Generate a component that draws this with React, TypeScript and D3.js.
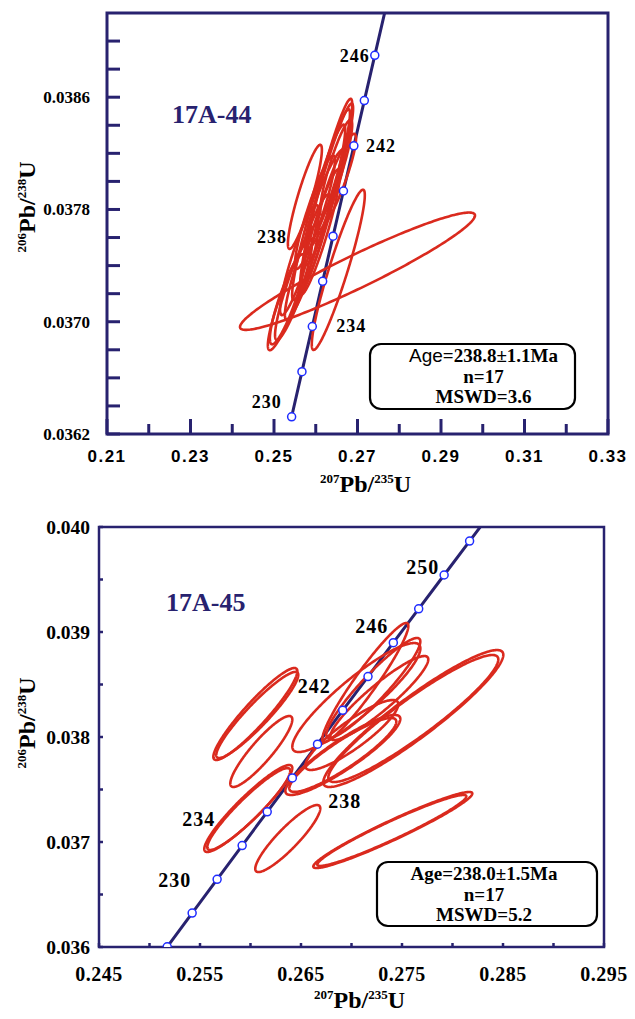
import * as d3 from "d3";

const NAVY = "#28226f";
const RED = "#da2a1e";
const MARK = "#1f2cff";
const SERIF = "'Liberation Serif', 'Times New Roman', serif";
const SANS = "'Liberation Sans', Arial, sans-serif";

// concordia reference points (Ma) with their ratios
const concAges = [228, 230, 232, 234, 236, 238, 240, 242, 244, 246, 248, 250, 252, 254];
const concX = [0.251754, 0.254222, 0.256695, 0.259173, 0.261655, 0.264143, 0.266635, 0.269132, 0.271634, 0.274141, 0.276653, 0.279171, 0.281693, 0.284221];
const concY = [0.0360013, 0.0363228, 0.0366444, 0.036966, 0.0372878, 0.0376097, 0.0379316, 0.0382537, 0.0385759, 0.0388981, 0.0392205, 0.039543, 0.0398655, 0.0401882];

// 17A-44 spots: 207Pb/235U, 206Pb/238U, half-widths, error correlation
const s44X = [0.2625, 0.2632, 0.2634, 0.2574, 0.2598, 0.2651, 0.2654, 0.2538, 0.2554, 0.258, 0.261, 0.2607, 0.2649, 0.256, 0.2622, 0.27, 0.2532];
const s44Xerr = [0.00623, 0.00575, 0.00479, 0.00407, 0.00479, 0.00455, 0.00635, 0.00527, 0.00515, 0.00539, 0.00479, 0.00635, 0.00383, 0.00455, 0.00479, 0.02814, 0.00419];
const s44Y = [0.03791, 0.03798, 0.03805, 0.03789, 0.03778, 0.038, 0.03737, 0.03719, 0.03728, 0.03746, 0.03764, 0.03778, 0.0381, 0.03744, 0.03787, 0.03736, 0.03716];
const s44Yerr = [0.000679, 0.000575, 0.000464, 0.000371, 0.000404, 0.000339, 0.000571, 0.000393, 0.000411, 0.000446, 0.000446, 0.000625, 0.000339, 0.000393, 0.000357, 0.000418, 0.000321];
const s44Rho = [0.94, 0.94, 0.93, 0.9, 0.91, 0.9, 0.93, 0.91, 0.91, 0.92, 0.92, 0.94, 0.89, 0.9, 0.9, 0.95, 0.87];

// 17A-45 spots
const s45X = [0.26048, 0.26067, 0.26107, 0.25978, 0.25983, 0.26369, 0.27409, 0.27399, 0.27137, 0.27216, 0.27048, 0.27275, 0.27612, 0.27612, 0.26914, 0.26914, 0.27003];
const s45Xerr = [0.004158, 0.004059, 0.003069, 0.004356, 0.004109, 0.003218, 0.007871, 0.007376, 0.004257, 0.004653, 0.006337, 0.004851, 0.008911, 0.008416, 0.005693, 0.005297, 0.004604];
const s45Y = [0.038219, 0.03821, 0.037862, 0.037319, 0.037314, 0.037033, 0.037114, 0.03711, 0.038519, 0.038467, 0.038376, 0.038371, 0.038176, 0.038176, 0.037829, 0.037829, 0.038019];
const s45Yerr = [0.000438, 0.00041, 0.000338, 0.000414, 0.00039, 0.000319, 0.000362, 0.000338, 0.000567, 0.000476, 0.000519, 0.0004, 0.000652, 0.000605, 0.000381, 0.000352, 0.000333];
const s45Rho = [0.93, 0.93, 0.9, 0.93, 0.93, 0.9, 0.96, 0.96, 0.95, 0.93, 0.9, 0.92, 0.93, 0.93, 0.9, 0.9, 0.88];

// axes
const topXTicks = [0.21, 0.22, 0.23, 0.24, 0.25, 0.26, 0.27, 0.28, 0.29, 0.3, 0.31, 0.32, 0.33];
const topXLabels = [0.21, 0.23, 0.25, 0.27, 0.29, 0.31, 0.33];
const topYTicks = [0.0362, 0.0364, 0.0366, 0.0368, 0.037, 0.0372, 0.0374, 0.0376, 0.0378, 0.038, 0.0382, 0.0384, 0.0386, 0.0388, 0.039];
const topYLabels = [0.0362, 0.037, 0.0378, 0.0386];
const botXTicks = [0.245, 0.25, 0.255, 0.26, 0.265, 0.27, 0.275, 0.28, 0.285, 0.29, 0.295];
const botXLabels = [0.245, 0.255, 0.265, 0.275, 0.285, 0.295];
const botYTicks = [0.036, 0.0365, 0.037, 0.0375, 0.038, 0.0385, 0.039, 0.0395, 0.04];
const botYLabels = [0.036, 0.037, 0.038, 0.039, 0.04];

const ellipsePath = (cx: number, sx: number, cy: number, sy: number, rho: number, x: any, y: any) => {
  const k = Math.sqrt(1 - rho * rho);
  const pts = d3.range(0, 2 * Math.PI, Math.PI / 120).map(
    (t) => [x(cx + sx * Math.cos(t)), y(cy + sy * (rho * Math.cos(t) + k * Math.sin(t)))] as [number, number]
  );
  return d3.line().curve(d3.curveLinearClosed)(pts) ?? undefined;
};

const Panel = (p: any) => {
  const x = d3.scaleLinear().domain(p.xDomain).range([p.left, p.right]);
  const y = d3.scaleLinear().domain(p.yDomain).range([p.bottom, p.top]);
  const idx = concAges.map((_, i) => i);
  const lineIdx = idx.filter((i) => concAges[i] >= p.lineFrom);
  const markIdx = idx.filter((i) => p.markAges.includes(concAges[i]));
  const line = d3
    .line<number>()
    .x((i) => x(concX[i]))
    .y((i) => y(concY[i]));
  const sup = (s: string) => (
    <tspan fontSize={13} dy={-9}>{s}</tspan>
  );
  const cx = (p.left + p.right) / 2;
  return (
    <g>
      <defs>
        <clipPath id={p.id}>
          <rect x={p.left} y={p.top} width={p.right - p.left} height={p.bottom - p.top} />
        </clipPath>
      </defs>
      {/* ticks */}
      {p.xTicks.map((t: number) => {
        const len = p.xLabels.includes(t) ? p.xMajor : p.xMinor;
        return <line key={"xt" + t} x1={x(t)} x2={x(t)} y1={p.bottom} y2={p.bottom - len} stroke={NAVY} strokeWidth={p.frameW} />;
      })}
      {p.yTicks.map((t: number) => (
        <line key={"yt" + t} x1={p.left} x2={p.left + p.yTickLen} y1={y(t)} y2={y(t)} stroke={NAVY} strokeWidth={p.frameW} />
      ))}
      <rect x={p.left} y={p.top} width={p.right - p.left} height={p.bottom - p.top} fill="none" stroke={NAVY} strokeWidth={p.frameW} />
      {p.xLabels.map((t: number) => (
        <text key={"xl" + t} x={x(t)} y={p.bottom + p.xLabelDy} textAnchor="middle" fontFamily={p.xFont} fontWeight="bold" fontSize={p.xFontSize} letterSpacing={p.xSpacing}>
          {t.toFixed(p.xDigits)}
        </text>
      ))}
      {p.yLabels.map((t: number) => (
        <text key={"yl" + t} x={p.left - p.yLabelGap} y={y(t)} dy="0.35em" textAnchor="end" fontFamily={SERIF} fontWeight="bold" fontSize={p.yFontSize}>
          {t.toFixed(p.yDigits)}
        </text>
      ))}
      <text x={cx + 8} y={p.titleY} textAnchor="middle" fontFamily={SERIF} fontWeight="bold">
        {sup("207")}
        <tspan fontSize={24} dy={9}>Pb/</tspan>
        {sup("235")}
        <tspan fontSize={24} dy={9}>U</tspan>
      </text>
      <g transform={`translate(35,${p.yTitleY}) rotate(-90)`}>
        <text x={0} y={0} textAnchor="middle" fontFamily={SERIF} fontWeight="bold">
          {sup("206")}
          <tspan fontSize={24} dy={9}>Pb/</tspan>
          {sup("238")}
          <tspan fontSize={24} dy={9}>U</tspan>
        </text>
      </g>
      <g clipPath={`url(#${p.id})`}>
        <path d={line(lineIdx) ?? undefined} fill="none" stroke={NAVY} strokeWidth={3} />
        {p.ex.map((v: number, i: number) => (
          <path key={"e" + i} d={ellipsePath(v, p.exErr[i], p.ey[i], p.eyErr[i], p.rho[i], x, y)} fill="none" stroke={RED} strokeWidth={2.6} />
        ))}
        {markIdx.map((i) => (
          <circle key={"m" + i} cx={x(concX[i])} cy={y(concY[i])} r={4} fill="white" stroke={MARK} strokeWidth={1.5} />
        ))}
      </g>
      {p.ageLabels.map((l: any) => {
        const i = concAges.indexOf(l.age);
        return (
          <text key={"al" + l.age} x={x(concX[i]) + l.dx} y={y(concY[i]) + l.dy} textAnchor={l.anchor} fontFamily={SERIF} fontWeight="bold" fontSize={p.ageFontSize} letterSpacing={1}>
            {l.age}
          </text>
        );
      })}
      <text x={p.nameX} y={p.nameY} fontFamily={SERIF} fontWeight="bold" fontSize={26} fill={NAVY}>
        {p.name}
      </text>
      <rect x={p.box[0]} y={p.box[1]} width={p.box[2]} height={p.box[3]} rx={11} fill="white" stroke="black" strokeWidth={2.2} />
      {p.result.map((s: string, i: number) => (
        <text key={"r" + i} x={p.box[0] + p.box[2] / 2 + p.textShift} y={p.box[1] + 18 + i * 20.5} textAnchor="middle" fontFamily={SERIF} fontWeight="bold" fontSize={19}>
          {i === 0 && p.sansAge ? (
            <>
              <tspan fontFamily={SANS} fontWeight="normal">Age</tspan>
              <tspan>{s.slice(3)}</tspan>
            </>
          ) : (
            s
          )}
        </text>
      ))}
    </g>
  );
};

export default function App() {
  return (
    <svg width={635} height={1019} style={{ position: "absolute", left: 0, top: 0, background: "white" }}>
      <Panel
        id="c44"
        left={107}
        right={608}
        top={13}
        bottom={434}
        xDomain={[0.21, 0.33]}
        yDomain={[0.0362, 0.0392]}
        xTicks={topXTicks}
        xLabels={topXLabels}
        xDigits={2}
        xMajor={15}
        xMinor={10}
        xFont={SANS}
        xFontSize={17}
        xSpacing={1.5}
        xLabelDy={28}
        yTicks={topYTicks}
        yLabels={topYLabels}
        yDigits={4}
        yTickLen={13}
        yLabelGap={17}
        yFontSize={17}
        frameW={3}
        titleY={492}
        yTitleY={207}
        ex={s44X}
        exErr={s44Xerr}
        ey={s44Y}
        eyErr={s44Yerr}
        rho={s44Rho}
        lineFrom={230}
        markAges={[230, 232, 234, 236, 238, 240, 242, 244, 246]}
        ageLabels={[
          { age: 246, dx: -5, dy: 7, anchor: "end" },
          { age: 242, dx: 12, dy: 6, anchor: "start" },
          { age: 238, dx: -46, dy: 7, anchor: "end" },
          { age: 234, dx: 24, dy: 5, anchor: "start" },
          { age: 230, dx: -10, dy: -9, anchor: "end" },
        ]}
        ageFontSize={18}
        name="17A-44"
        nameX={172}
        nameY={123}
        box={[370, 344, 205, 65]}
        textShift={11}
        sansAge={true}
        result={["Age=238.8±1.1Ma", "n=17", "MSWD=3.6"]}
      />
      <Panel
        id="c45"
        left={99}
        right={604}
        top={527}
        bottom={947}
        xDomain={[0.245, 0.295]}
        yDomain={[0.036, 0.04]}
        xTicks={botXTicks}
        xLabels={botXLabels}
        xDigits={3}
        xMajor={4}
        xMinor={4}
        xFont={SERIF}
        xFontSize={20}
        xSpacing={0.5}
        xLabelDy={34}
        yTicks={botYTicks}
        yLabels={botYLabels}
        yDigits={3}
        yTickLen={4}
        yLabelGap={9}
        yFontSize={19.5}
        frameW={2.5}
        titleY={1008}
        yTitleY={723}
        ex={s45X}
        exErr={s45Xerr}
        ey={s45Y}
        eyErr={s45Yerr}
        rho={s45Rho}
        lineFrom={228}
        markAges={[228, 230, 232, 234, 236, 238, 240, 242, 244, 246, 248, 250, 252]}
        ageLabels={[
          { age: 250, dx: -5, dy: -1, anchor: "end" },
          { age: 246, dx: -5, dy: -10, anchor: "end" },
          { age: 242, dx: -12, dy: -17, anchor: "end" },
          { age: 238, dx: 36, dy: 30, anchor: "start" },
          { age: 234, dx: -27, dy: -20, anchor: "end" },
          { age: 230, dx: -1, dy: -26, anchor: "end" },
        ]}
        ageFontSize={20}
        name="17A-45"
        nameX={166}
        nameY={611}
        box={[377, 862, 220, 64]}
        textShift={-3}
        sansAge={false}
        result={["Age=238.0±1.5Ma", "n=17", "MSWD=5.2"]}
      />
    </svg>
  );
}
